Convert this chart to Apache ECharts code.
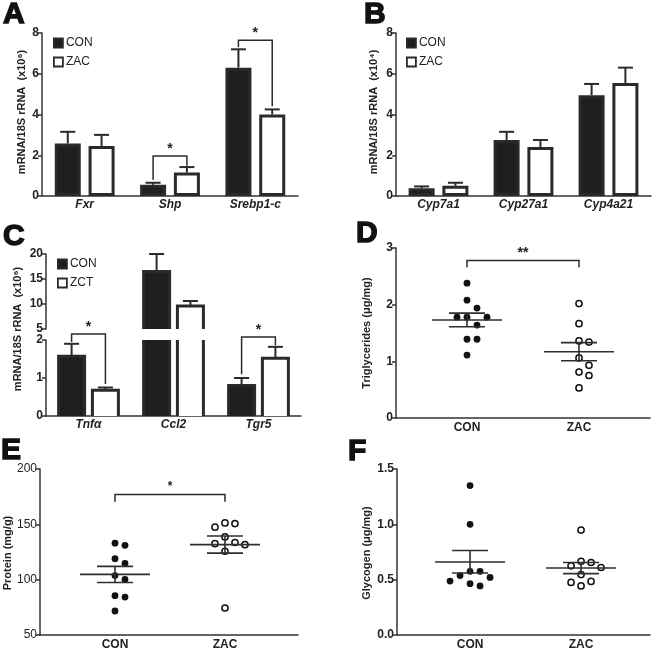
<!DOCTYPE html>
<html><head><meta charset="utf-8">
<script src="https://cdn.jsdelivr.net/npm/echarts@6/dist/echarts.min.js"></script>
<style>html,body{margin:0;padding:0;background:#fff}#c{width:654px;height:651px}</style>
</head><body><div id="c"></div><script>
// ---------- data ----------
// Panel A
const aGenes = ['Fxr', 'Shp', 'Srebp1-c'];
const aCon = [2.58, 0.55, 6.3];
const aConErr = [3.15, 0.65, 7.2];
const aZac = [2.45, 1.15, 4.0];
const aZacErr = [3.0, 1.42, 4.25];
const aSig = [[1, 1.96, 0.8, 1.48, '*'], [2, 7.65, 7.3, 4.4, '*']];
// Panel B
const bGenes = ['Cyp7a1', 'Cyp27a1', 'Cyp4a21'];
const bCon = [0.38, 2.75, 4.95];
const bConErr = [0.47, 3.15, 5.5];
const bZac = [0.5, 2.4, 5.55];
const bZacErr = [0.65, 2.75, 6.3];
// Panel C
const cGenes = ['Tnfα', 'Ccl2', 'Tgr5'];
const cCon = [1.57, 16.5, 0.8];
const cConErr = [1.9, 20, 1.0];
const cZct = [0.68, 9.6, 1.52];
const cZctErr = [0.75, 10.6, 1.82];
const cSig = [[0, 2.16, 1.95, 0.84, '*'], [2, 2.08, 1.1, 1.86, '*']];
// Scatter panels
const groups = ['CON', 'ZAC'];
const dCon = [2.38, 2.08, 1.94, 1.78, 1.78, 1.78, 1.64, 1.39, 1.39, 1.11];
const dZac = [2.02, 1.665, 1.36, 1.34, 1.06, 0.93, 0.81, 0.75, 0.53];
const dMean = [1.73, 1.17], dSemLo = [1.61, 1.01], dSemHi = [1.85, 1.33];
const dSig = [2.78, 2.66, 2.66, '**'];
const eCon = [131, 133, 119, 114.6, 103.7, 100.2, 85.5, 84.3, 71.7];
const eZac = [150.7, 151.3, 147.4, 138.6, 133.6, 131.6, 132.5, 125.7, 74.4];
const eMean = [104.8, 131.7], eSemLo = [97.5, 124], eSemHi = [112, 139.5];
const eSig = [177, 170.5, 170.5, '*'];
const fCon = [1.35, 1.0, 0.575, 0.575, 0.537, 0.487, 0.52, 0.443, 0.464];
const fZac = [0.948, 0.655, 0.666, 0.61, 0.625, 0.546, 0.484, 0.475, 0.443];
const fMean = [0.66, 0.605], fSemLo = [0.56, 0.555], fSemHi = [0.763, 0.655];

// ---------- styles ----------
const FONT = '"Liberation Sans", Arial, sans-serif';
const INK = '#222';
const AX = '#333';
const EDGE = '#2a2a2a';
const BW = 26, BGAP = 0.3, BOFF = BW * (1 + BGAP) / 2;
const CON_FILL = '#1f1f1f', OPEN_FILL = '#ffffff';

const grids = [
  {left: 42, top: 33, width: 256, height: 163},   // A
  {left: 396, top: 33, width: 255, height: 163},  // B
  {left: 46, top: 254, width: 255, height: 75},   // C upper
  {left: 46, top: 340, width: 255, height: 76},   // C lower
  {left: 396, top: 248, width: 254, height: 170}, // D
  {left: 40, top: 469, width: 258, height: 170},  // E
  {left: 397, top: 469, width: 253, height: 170}  // F
];

function yAx(gi, min, max, interval, bold, fmt) {
  return {type: 'value', gridIndex: gi, min, max, interval,
    axisLine: {show: true, lineStyle: {color: AX, width: 1.5}},
    axisTick: {show: true, length: 4, lineStyle: {color: AX, width: 1.5}},
    splitLine: {show: false},
    axisLabel: {color: INK, fontFamily: FONT, fontSize: 12, fontWeight: bold ? 'bold' : 'normal', margin: 3,
      formatter: fmt || (v => String(v))}};
}
function xCat(gi, data, show) {
  return {type: 'category', gridIndex: gi, data, show: show !== false,
    axisLine: {show: true, lineStyle: {color: AX, width: 1.5}},
    axisTick: {show: false}, splitLine: {show: false},
    axisLabel: {color: INK, fontFamily: FONT, fontSize: 12, fontWeight: 'bold', fontStyle: 'italic', margin: 3}};
}
function xVal(gi, min, max) {
  return {type: 'value', gridIndex: gi, min, max,
    axisLine: {show: true, onZero: false, lineStyle: {color: AX, width: 1.5}},
    axisTick: {show: false}, splitLine: {show: false},
    axisLabel: {customValues: [1, 2], formatter: v => groups[Math.round(v) - 1] || '',
      color: INK, fontFamily: FONT, fontSize: 12, fontWeight: 'bold', margin: 4}};
}

function bar(name, data, gi, fill) {
  return {type: 'bar', name, data, xAxisIndex: gi, yAxisIndex: gi, barWidth: BW, barGap: (BGAP * 100) + '%',
    clip: true, z: 2, animation: false,
    itemStyle: {color: fill, borderColor: EDGE, borderWidth: 3}};
}
// bars for the broken-axis panel: drawn open at the axis break
function brokenBar(name, data, gi, side, fill) {
  return {type: 'custom', name, xAxisIndex: gi, yAxisIndex: gi, z: 2, animation: false, clip: false,
    itemStyle: {color: fill, borderColor: EDGE, borderWidth: 3},
    data: data.map((v, i) => [i, v]),
    renderItem(params, api) {
      const cs = params.coordSys;
      const i = api.value(0), v = api.value(1);
      const pTop = api.coord([i, v]);
      const yBaseRaw = api.coord([i, 0])[1];
      const gTop = cs.y, gBot = cs.y + cs.height;
      const yTop = Math.max(pTop[1], gTop);
      const yBase = Math.min(yBaseRaw, gBot);
      if (yTop >= yBase) return null;
      const cx = pTop[0] + side * BOFF;
      const xL = cx - BW / 2, xR = cx + BW / 2;
      const children = [
        {type: 'rect', shape: {x: xL, y: yTop, width: BW, height: yBase - yTop}, style: {fill: fill}},
      ];
      const closedTop = pTop[1] >= gTop;
      const pts = closedTop ? [[xL, yBase], [xL, yTop], [xR, yTop], [xR, yBase]] : null;
      if (closedTop) {
        children.push({type: 'polyline', shape: {points: pts}, style: {stroke: EDGE, lineWidth: 3, fill: null, lineJoin: 'miter'}});
      } else {
        children.push({type: 'line', shape: {x1: xL, y1: yTop, x2: xL, y2: yBase}, style: {stroke: EDGE, lineWidth: 3}});
        children.push({type: 'line', shape: {x1: xR, y1: yTop, x2: xR, y2: yBase}, style: {stroke: EDGE, lineWidth: 3}});
      }
      return {type: 'group', children};
    }};
}
function errBars(vals, errs, gi, side, lo, hi) {
  return {type: 'custom', xAxisIndex: gi, yAxisIndex: gi, silent: true, z: 1, animation: false,
    data: vals.map((v, i) => [i, v, errs[i]]),
    renderItem(params, api) {
      const i = api.value(0), v = api.value(1), e = api.value(2);
      if (lo != null && v < lo) return null;
      if (hi != null && v > hi) return null;
      const p0 = api.coord([i, v]), p1 = api.coord([i, e]);
      const x = p0[0] + side * BOFF;
      const st = {stroke: EDGE, lineWidth: 2};
      return {type: 'group', children: [
        {type: 'line', shape: {x1: x, y1: p0[1], x2: x, y2: p1[1]}, style: st},
        {type: 'line', shape: {x1: x - 7.5, y1: p1[1], x2: x + 7.5, y2: p1[1]}, style: st}
      ]};
    }};
}
function barSig(sig, gi, fontSize) {
  return {type: 'custom', xAxisIndex: gi, yAxisIndex: gi, silent: true, z: 3, animation: false, clip: false,
    data: sig.map(s => [s[0], s[1], s[2], s[3]]),
    renderItem(params, api) {
      const c = api.value(0);
      const yT = api.coord([c, api.value(1)])[1];
      const yL = api.coord([c, api.value(2)])[1];
      const yR = api.coord([c, api.value(3)])[1];
      const cx = api.coord([c, api.value(1)])[0];
      const xL = cx - BOFF, xR = cx + BOFF;
      return {type: 'group', children: [
        {type: 'polyline', shape: {points: [[xL, yL], [xL, yT], [xR, yT], [xR, yR]]},
          style: {stroke: EDGE, lineWidth: 1.5, fill: null}},
        {type: 'text', style: {text: sig[params.dataIndex][4], x: cx, y: yT - 14, textAlign: 'center',
          textVerticalAlign: 'top', font: 'bold ' + (fontSize || 14) + 'px ' + FONT, fill: INK}}
      ]};
    }};
}
function swarm(vals, k, d) {
  const order = vals.map((v, i) => i).sort((a, b) => vals[b] - vals[a]);
  const placed = [], off = new Array(vals.length).fill(0);
  order.forEach(i => {
    const y = vals[i] * k;
    for (let s = 0; s < 30; s++) {
      const o = s === 0 ? 0 : (s % 2 ? 1 : -1) * Math.ceil(s / 2) * d;
      if (placed.every(p => (p.x - o) * (p.x - o) + (p.y - y) * (p.y - y) >= d * d)) {
        off[i] = o; placed.push({x: o, y}); break;
      }
    }
  });
  return off;
}
function dots(vals, x, gi, filled) {
  return {type: 'custom', xAxisIndex: gi, yAxisIndex: gi, silent: true, z: 2, animation: false,
    data: vals.map(v => [x, v]),
    renderItem(params, api) {
      const k = api.size([0, 1])[1];
      const offs = swarm(vals, k, 10);
      const c = api.coord([x, api.value(1)]);
      return {type: 'circle', shape: {cx: c[0] + offs[params.dataIndex], cy: c[1], r: filled ? 3.4 : 3.1},
        style: filled ? {fill: '#111'} : {fill: '#fff', stroke: '#111', lineWidth: 1.5}};
    }};
}
function meanSem(mean, lo, hi, gi) {
  return {type: 'custom', xAxisIndex: gi, yAxisIndex: gi, silent: true, z: 3, animation: false,
    data: mean.map((m, i) => [i + 1, m, lo[i], hi[i]]),
    renderItem(params, api) {
      const x = api.value(0);
      const pm = api.coord([x, api.value(1)]);
      const yl = api.coord([x, api.value(2)])[1], yh = api.coord([x, api.value(3)])[1];
      const st = {stroke: '#2e2e2e', lineWidth: 1.6};
      return {type: 'group', children: [
        {type: 'line', shape: {x1: pm[0] - 35, y1: pm[1], x2: pm[0] + 35, y2: pm[1]}, style: st},
        {type: 'line', shape: {x1: pm[0] - 18, y1: yl, x2: pm[0] + 18, y2: yl}, style: st},
        {type: 'line', shape: {x1: pm[0] - 18, y1: yh, x2: pm[0] + 18, y2: yh}, style: st},
        {type: 'line', shape: {x1: pm[0], y1: yl, x2: pm[0], y2: yh}, style: st}
      ]};
    }};
}
function dotSig(sig, gi, fontSize) {
  return {type: 'custom', xAxisIndex: gi, yAxisIndex: gi, silent: true, z: 3, animation: false, clip: false,
    data: [[1, sig[0], sig[1], sig[2]]],
    renderItem(params, api) {
      const pL = api.coord([1, api.value(1)]), pR = api.coord([2, api.value(1)]);
      const yL = api.coord([1, api.value(2)])[1], yR = api.coord([2, api.value(3)])[1];
      return {type: 'group', children: [
        {type: 'polyline', shape: {points: [[pL[0], yL], [pL[0], pL[1]], [pR[0], pR[1]], [pR[0], yR]]},
          style: {stroke: EDGE, lineWidth: 1.5, fill: null}},
        {type: 'text', style: {text: sig[3], x: (pL[0] + pR[0]) / 2, y: pL[1] - 14, textAlign: 'center',
          textVerticalAlign: 'top', font: 'bold ' + (fontSize || 14) + 'px ' + FONT, fill: INK}}
      ]};
    }};
}

function legendAt(left, top, names) {
  return {show: true, orient: 'vertical', left, top, padding: 0, itemGap: 7, itemWidth: 9, itemHeight: 9,
    icon: 'rect', data: names, selectedMode: false,
    itemStyle: {borderWidth: 1.8, borderColor: EDGE},
    textStyle: {fontFamily: FONT, fontSize: 12, color: INK, padding: [0, 0, 0, -2]}};
}
function letter(t, x, y) {
  return {type: 'text', x, y, style: {text: t, font: 'bold 30px ' + FONT, fill: '#111', stroke: '#111', lineWidth: 1.4,
    textVerticalAlign: 'top'}};
}
function ytitle(t, x, y) {
  return {type: 'text', x, y, rotation: Math.PI / 2,
    style: {text: t, font: 'bold 11px ' + FONT, fill: INK, textAlign: 'center', textVerticalAlign: 'middle'}};
}

const option = {
  animation: false,
  backgroundColor: '#fff',
  grid: grids,
  xAxis: [
    xCat(0, aGenes), xCat(1, bGenes), xCat(2, cGenes, false), xCat(3, cGenes),
    xVal(4, 0.366, 2.634), xVal(5, 0.318, 2.664), xVal(6, 0.342, 2.621)
  ],
  yAxis: [
    yAx(0, 0, 8, 2, true), yAx(1, 0, 8, 2, true), yAx(2, 5, 20, 5, true), yAx(3, 0, 2, 1, true),
    yAx(4, 0, 3, 1, true), yAx(5, 50, 200, 50, false), yAx(6, 0, 1.5, 0.5, true, v => v.toFixed(1))
  ],
  legend: [
    legendAt(53, 37, ['CON', 'ZAC']),
    legendAt(406, 37, ['CON', 'ZAC']),
    legendAt(57, 258, ['CON', 'ZCT'])
  ],
  graphic: [
    letter('A', 3, 0), letter('B', 364, 0), letter('C', 3, 222), letter('D', 356, 219),
    letter('E', 1, 436), letter('F', 348, 437),
    ytitle('mRNA/18S rRNA  (x10⁶)', 22, 112),
    ytitle('mRNA/18S rRNA  (x10⁴)', 374, 112),
    ytitle('mRNA/18S rRNA  (x10⁶)', 18, 329),
    ytitle('Triglycerides (μg/mg)', 367, 333),
    ytitle('Protein (mg/g)', 8, 553),
    ytitle('Glycogen (μg/mg)', 367, 553)
  ],
  series: [
    bar('CON', aCon, 0, CON_FILL), bar('ZAC', aZac, 0, OPEN_FILL),
    errBars(aCon, aConErr, 0, -1), errBars(aZac, aZacErr, 0, 1), barSig(aSig, 0),
    bar('CON', bCon, 1, CON_FILL), bar('ZAC', bZac, 1, OPEN_FILL),
    errBars(bCon, bConErr, 1, -1), errBars(bZac, bZacErr, 1, 1),
    brokenBar('CON', cCon, 2, -1, CON_FILL), brokenBar('ZCT', cZct, 2, 1, OPEN_FILL),
    errBars(cCon, cConErr, 2, -1, 5), errBars(cZct, cZctErr, 2, 1, 5),
    brokenBar('CON', cCon, 3, -1, CON_FILL), brokenBar('ZCT', cZct, 3, 1, OPEN_FILL),
    errBars(cCon, cConErr, 3, -1, null, 2), errBars(cZct, cZctErr, 3, 1, null, 2), barSig(cSig, 3),
    dots(dCon, 1, 4, true), dots(dZac, 2, 4, false), meanSem(dMean, dSemLo, dSemHi, 4), dotSig(dSig, 4),
    dots(eCon, 1, 5, true), dots(eZac, 2, 5, false), meanSem(eMean, eSemLo, eSemHi, 5), dotSig(eSig, 5, 12),
    dots(fCon, 1, 6, true), dots(fZac, 2, 6, false), meanSem(fMean, fSemLo, fSemHi, 6)
  ]
};
const chart = echarts.init(document.getElementById('c'), null, {renderer: 'canvas'});
chart.setOption(option);
</script></body></html>
